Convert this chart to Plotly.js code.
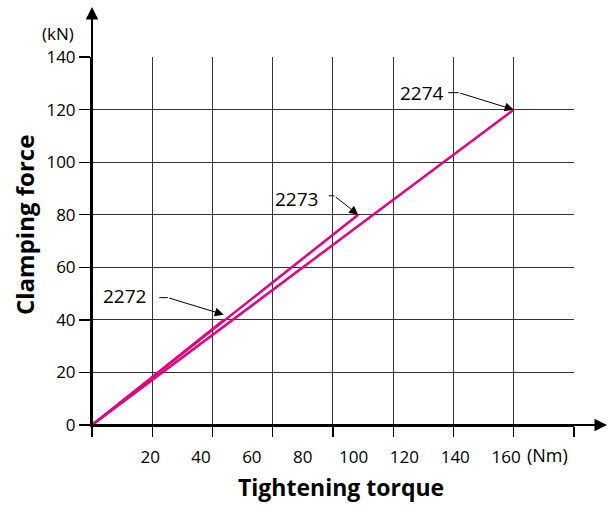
<!DOCTYPE html>
<html>
<head>
<meta charset="utf-8">
<script src="https://cdn.plot.ly/plotly-3.0.1.min.js"></script>
<style>html,body{margin:0;padding:0;background:#fff;}#chart{width:608px;height:505px;}</style>
</head>
<body>
<div id="chart"></div>
<script>
// ---- data ----
const series = ["2272", "2273", "2274"];
const torque2272 = [0, 50];
const clamp2272 = [0, 40];
const torque2273 = [0, 101];
const clamp2273 = [0, 80];
const torque2274 = [0, 160];
const clamp2274 = [0, 120];
const xTickVals = [20, 40, 60, 80, 100, 120, 140, 160];
const xTickText = ["20", "40", "60", "80", "100", "120", "140", "160"];
const yTickVals = [0, 20, 40, 60, 80, 100, 120, 140];
const yTickText = ["0", "20", "40", "60", "80", "100", "120", "140"];

const FONT = "Open Sans, Noto Sans, sans-serif";
const PINK = "#E4007F";
const GRID_STEP = 160 / 7;

const xs = [torque2272, torque2273, torque2274];
const ys = [clamp2272, clamp2273, clamp2274];
const traces = series.map((name, i) => ({
  type: "scatter", mode: "lines", name: name,
  x: xs[i], y: ys[i], xaxis: "x", yaxis: "y",
  line: {color: PINK, width: 2.5},
  hoverinfo: "skip", showlegend: false
}));

function callout(name, tx, ty, kink, lead, txt) {
  return [
    {x: tx, y: ty, xref: "x", yref: "y", text: "", showarrow: true,
     ax: kink[0], ay: kink[1], arrowhead: 2, arrowsize: 1.8, arrowwidth: 1,
     arrowcolor: "#000", standoff: 0},
    {x: tx, y: ty, xref: "x", yref: "y", text: "", showarrow: true,
     xshift: kink[0], yshift: -kink[1], ax: -lead, ay: 0, arrowhead: 0,
     arrowwidth: 1, arrowcolor: "#000", standoff: 0},
    {x: tx, y: ty, xref: "x", yref: "y", text: name, showarrow: false,
     xshift: txt[0], yshift: -txt[1], font: {family: FONT, size: 19, color: "#000"}}
  ];
}

const annotations = [].concat(
  callout(series[2], torque2274[1], clamp2274[1], [-55, -17], 12, [-92, -17]),
  callout(series[1], torque2273[1], clamp2273[1], [-24, -19], 7, [-62, -16]),
  callout(series[0], 50, 42, [-56, -17], 10, [-99, -19]),
  [
    {x: 1.0685, y: 0, xref: "paper", yref: "paper", text: "", showarrow: true,
     ax: -526, ay: 0, arrowhead: 2, arrowsize: 1.25, arrowwidth: 2, arrowcolor: "#000", standoff: 0},
    {x: 0, y: 1.136, xref: "paper", yref: "paper", text: "", showarrow: true,
     ax: 0, ay: 428, arrowhead: 2, arrowsize: 1.25, arrowwidth: 2, arrowcolor: "#000", standoff: 0},
    {x: -0.0332, y: 1.0652, xref: "paper", yref: "paper", text: "(kN)", showarrow: false,
     xanchor: "right", yanchor: "middle", font: {family: FONT, size: 17, color: "#000"}},
    {x: 0.944, y: -0.0815, xref: "paper", yref: "paper", text: "(Nm)", showarrow: false,
     xanchor: "center", yanchor: "middle", font: {family: FONT, size: 18, color: "#000"}},
    {x: -0.139, y: 0.5435, xref: "paper", yref: "paper", text: "<b>Clamping force</b>", showarrow: false,
     textangle: -90, xanchor: "center", yanchor: "middle", font: {family: FONT, size: 24, color: "#000"}},
    {x: 0.5166, y: -0.1685, xref: "paper", yref: "paper", text: "<b>Tightening torque</b>", showarrow: false,
     xanchor: "center", yanchor: "middle", font: {family: FONT, size: 23, color: "#000"}}
  ]
);

const layout = {
  width: 608, height: 505,
  margin: {l: 92, r: 34, t: 57, b: 80},
  paper_bgcolor: "#fff", plot_bgcolor: "#fff",
  showlegend: false,
  font: {family: FONT, size: 17, color: "#000"},
  xaxis: {
    range: [0, GRID_STEP * 8 + 0.02], dtick: GRID_STEP, tick0: 0,
    showgrid: true, gridcolor: "#333", gridwidth: 1, zeroline: false,
    ticks: "outside", ticklen: 10, tickcolor: "#000", tickwidth: 1.3,
    showticklabels: false, showline: true, linecolor: "#000", linewidth: 2,
    fixedrange: true
  },
  xaxis2: {
    overlaying: "x", anchor: "y", side: "bottom",
    range: [-2.87, 186.7], tickmode: "array", tickvals: xTickVals, ticktext: xTickText,
    showgrid: false, zeroline: false, showline: false,
    ticks: "outside", ticklen: 17, tickcolor: "rgba(0,0,0,0)",
    tickfont: {family: FONT, size: 17, color: "#000"}, fixedrange: true
  },
  yaxis: {
    range: [0, 140.05], tickmode: "array", tickvals: yTickVals, ticktext: yTickText,
    showgrid: true, gridcolor: "#333", gridwidth: 1, zeroline: false,
    ticks: "outside", ticklen: 11, tickcolor: "#000", tickwidth: 1.3,
    showline: true, linecolor: "#000", linewidth: 2,
    tickfont: {family: FONT, size: 17, color: "#000"}, fixedrange: true
  },
  annotations: annotations
};

traces.push({type: "scatter", mode: "markers", x: [], y: [], xaxis: "x2", yaxis: "y",
  hoverinfo: "skip", showlegend: false});

Plotly.newPlot("chart", traces, layout, {staticPlot: true, displayModeBar: false});
</script>
</body>
</html>
